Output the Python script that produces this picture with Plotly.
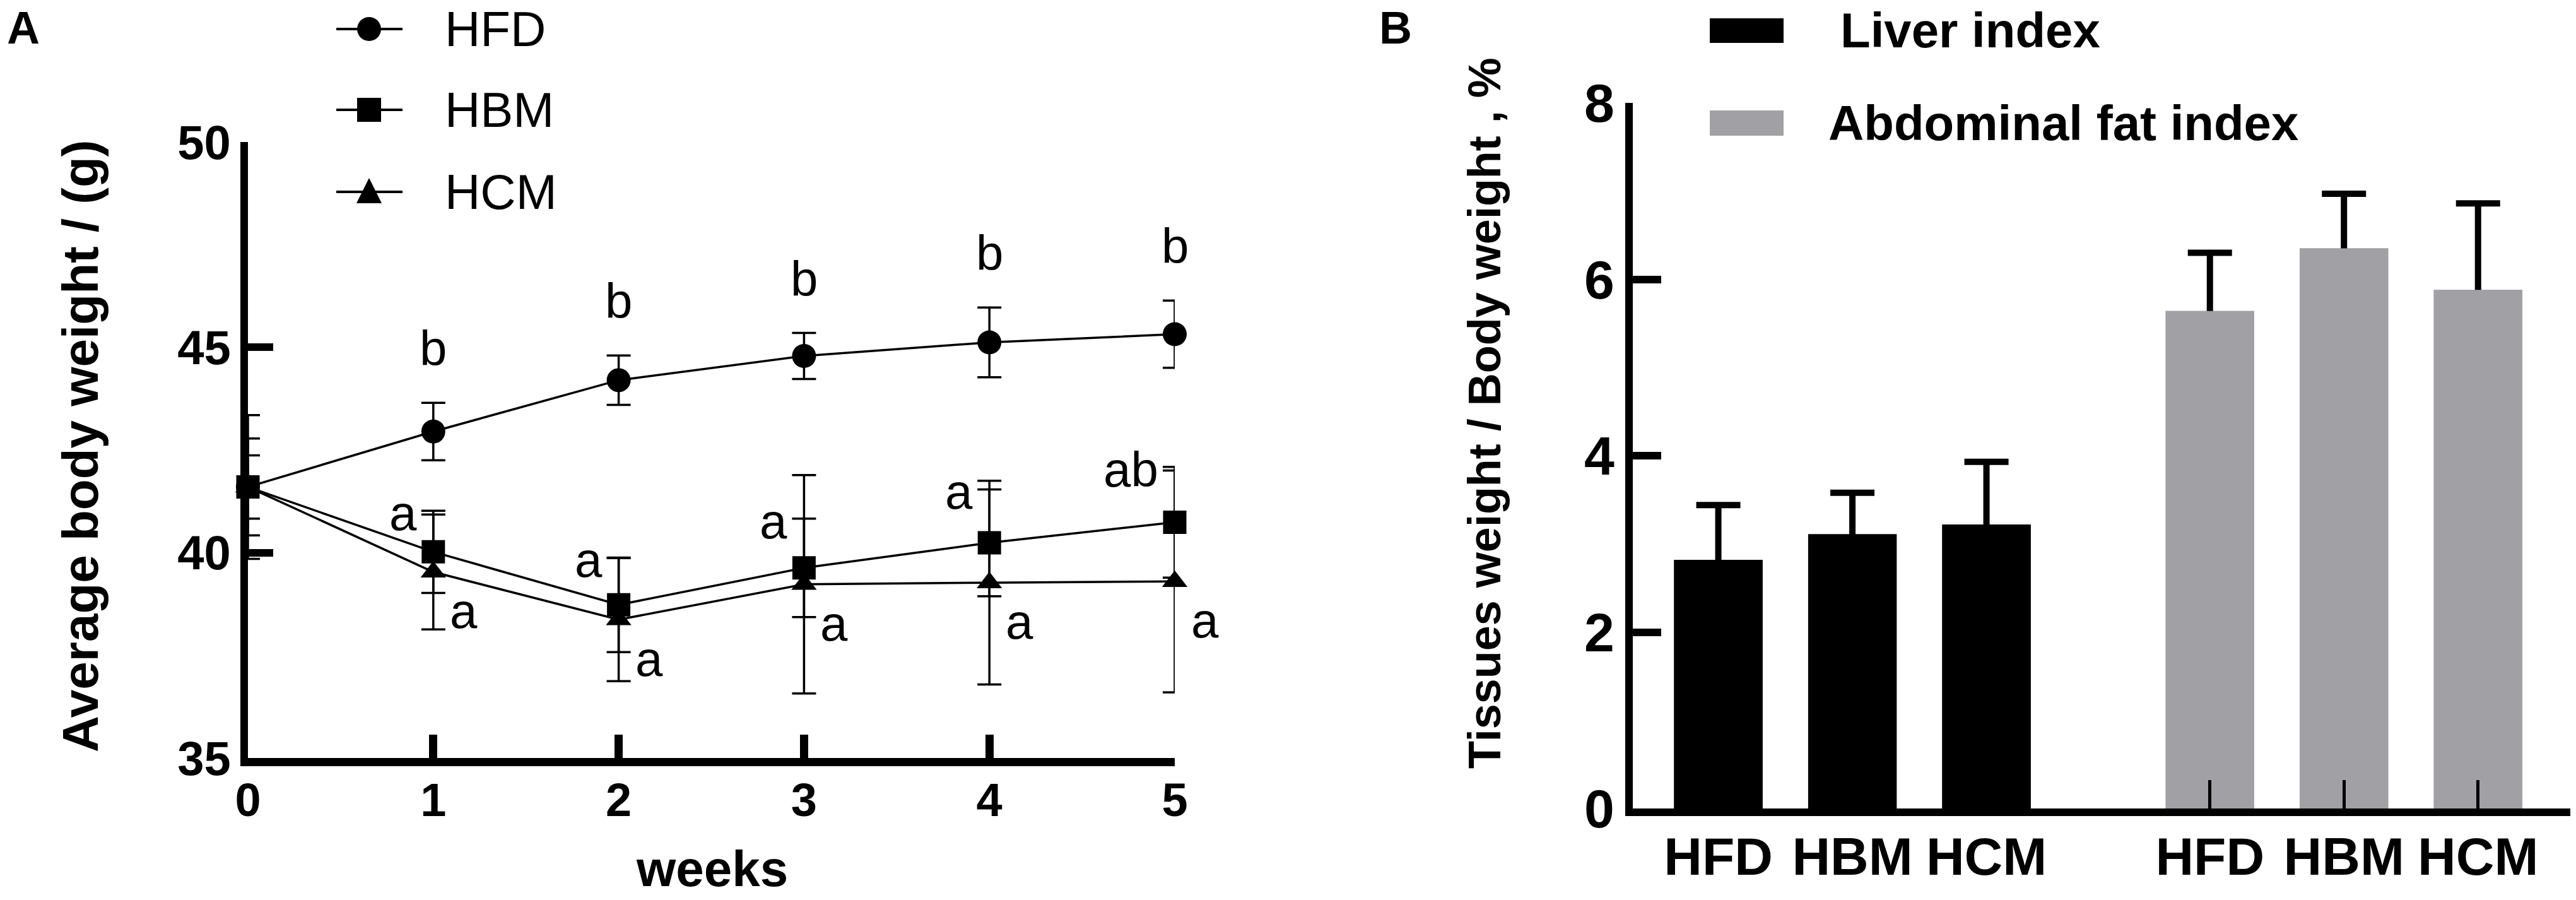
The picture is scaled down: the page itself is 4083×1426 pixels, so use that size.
import plotly.graph_objects as go

# Painel A: peso corporal médio (g) por semana
weeks = [0, 1, 2, 3, 4, 5]
hfd_mean = [41.6, 42.95, 44.2, 44.79, 45.12, 45.32]
hfd_sd = [1.18, 0.7, 0.6, 0.56, 0.85, 0.82]
hbm_mean = [41.6, 40.02, 38.73, 39.63, 40.24, 40.74]
hbm_sd = [0.77, 1.0, 1.15, 1.2, 1.3, 1.35]
hcm_mean = [41.6, 39.53, 38.37, 39.23, 39.27, 39.3]
hcm_sd = [1.75, 1.4, 1.5, 2.66, 2.48, 2.7]
hfd_letters = ["", "b", "b", "b", "b", "b"]
hbm_letters = ["", "a", "a", "a", "a", "ab"]
hcm_letters = ["", "a", "a", "a", "a", "a"]

# Painel B: índices (%)
groups = ["HFD", "HBM", "HCM"]
liver_mean = [2.82, 3.11, 3.22]
liver_sd = [0.62, 0.47, 0.71]
fat_mean = [5.64, 6.35, 5.88]
fat_sd = [0.66, 0.62, 0.98]

W, H = 4083, 1426
FONT = "Liberation Sans, Arial, Helvetica, sans-serif"
GREY = "#a1a1a5"

def px(x):
    return x / W

def py(y):
    return 1 - y / H

fig = go.Figure()

# linhas com barras de erro
series = [
    ("HFD", hfd_mean, hfd_sd, "circle", 38),
    ("HBM", hbm_mean, hbm_sd, "square", 37),
    ("HCM", hcm_mean, hcm_sd, "triangle-up", 35),
]
for name, m, s, sym, size in series:
    fig.add_trace(go.Scatter(
        x=weeks, y=m, name=name, mode="lines+markers",
        line=dict(color="black", width=3.5),
        marker=dict(symbol=sym, size=size, color="black"),
        error_y=dict(type="data", array=s, color="black", thickness=3.5, width=19),
        cliponaxis=False, showlegend=False, xaxis="x", yaxis="y",
    ))

# barras do painel B: primeiro com a barra de erro (só para cima),
# depois a mesma barra por cima para esconder o traço inferior
step = 3 + 2 / 3
pos_liver = [i for i in range(3)]
pos_fat = [i + step for i in range(3)]
bar_sets = [(pos_liver, liver_mean, liver_sd, "black", "Liver index"),
            (pos_fat, fat_mean, fat_sd, GREY, "Abdominal fat index")]
for pos, m, s, col, name in bar_sets:
    fig.add_trace(go.Bar(
        x=pos, y=m, name=name, width=0.66, marker=dict(color=col, line=dict(width=0)),
        error_y=dict(type="data", array=s, arrayminus=[0.1] * len(s), symmetric=False,
                     color="black", thickness=10, width=35),
        showlegend=False, xaxis="x2", yaxis="y2",
    ))
for pos, m, s, col, name in bar_sets:
    fig.add_trace(go.Bar(
        x=pos, y=m, name=name, width=0.66, marker=dict(color=col, line=dict(width=0)),
        showlegend=False, hoverinfo="skip", xaxis="x2", yaxis="y2",
    ))

ann = []
# letras de significância
for w, m, s, t in zip(weeks, hfd_mean, hfd_sd, hfd_letters):
    if t:
        ann.append(dict(x=w, y=m + s, text=t, xref="x", yref="y", showarrow=False,
                        xanchor="center", yanchor="middle", yshift=86, font=dict(size=78)))
for w, m, s, t in zip(weeks, hbm_mean, hbm_sd, hbm_letters):
    if t:
        ann.append(dict(x=w, y=m + s, text=t, xref="x", yref="y", showarrow=False,
                        xanchor="right", yanchor="middle", xshift=-24, yshift=-4,
                        font=dict(size=78)))
for w, m, t in zip(weeks, hcm_mean, hcm_letters):
    if t:
        ann.append(dict(x=w, y=m, text=t, xref="x", yref="y", showarrow=False,
                        xanchor="left", yanchor="middle", xshift=24, yshift=-62,
                        font=dict(size=78)))

# títulos e rótulos dos painéis
labels = [
    dict(x=px(37), y=py(44), text="A", font=dict(size=72, weight="bold")),
    dict(x=px(2212), y=py(44), text="B", font=dict(size=72, weight="bold")),
    dict(x=px(128), y=py(707), text="Average body weight / (g)", textangle=-90,
         font=dict(size=80, weight="bold")),
    dict(x=px(1128), y=py(1376), text="weeks", font=dict(size=80, weight="bold")),
    dict(x=px(2353), y=py(655), text="Tissues weight / Body weight , %", textangle=-90,
         font=dict(size=72, weight="bold")),
]
for a in labels:
    a.update(xref="paper", yref="paper", showarrow=False, xanchor="center", yanchor="middle")
ann += labels

# legenda do painel A (desenhada à mão)
shapes = []
leg_a_y = [46, 174, 304]
for (name, _, _, sym, _), ly in zip(series, leg_a_y):
    yy = py(ly)
    shapes.append(dict(type="line", xref="paper", yref="paper", x0=px(533), x1=px(638),
                       y0=yy, y1=yy, line=dict(color="black", width=4)))
    base = dict(xref="paper", yref="paper", xsizemode="pixel", ysizemode="pixel",
                xanchor=px(585), yanchor=yy, fillcolor="black", line=dict(width=0))
    if sym == "circle":
        shapes.append(dict(base, type="circle", x0=-19, x1=19, y0=-19, y1=19))
    elif sym == "square":
        shapes.append(dict(base, type="rect", x0=-19, x1=19, y0=-19, y1=19))
    else:
        shapes.append(dict(base, type="path", path="M-20,-18 L20,-18 L0,22 Z"))
    ann.append(dict(x=px(703), y=yy, text=name, xref="paper", yref="paper", showarrow=False,
                    xanchor="left", yanchor="middle", font=dict(size=78)))

# legenda do painel B
for col, name, y0, y1, tx in [("black", "Liver index", 29, 68, 2915),
                              (GREY, "Abdominal fat index", 175, 215, 2896)]:
    shapes.append(dict(type="rect", xref="paper", yref="paper", x0=px(2710), x1=px(2827),
                       y0=py(y1), y1=py(y0), fillcolor=col, line=dict(width=0)))
    ann.append(dict(x=px(tx), y=py((y0 + y1) / 2), text=name, xref="paper", yref="paper",
                    showarrow=False, xanchor="left", yanchor="middle",
                    font=dict(size=78, weight="bold")))

axis_common = dict(showline=True, linecolor="black", showgrid=False, zeroline=False,
                   ticks="inside", tickcolor="black", automargin=False)

fig.update_layout(
    width=W, height=H,
    margin=dict(l=0, r=0, t=0, b=0, pad=0),
    paper_bgcolor="white", plot_bgcolor="white",
    font=dict(family=FONT, color="black"),
    showlegend=False, barmode="overlay",
    xaxis=dict(axis_common, domain=[px(393), px(1862)], range=[0, 5],
               tickvals=weeks, ticktext=[str(w) for w in weeks],
               linewidth=13, ticklen=37, tickwidth=13, ticklabelstandoff=-10,
               tickfont=dict(size=74, weight="bold"), anchor="y"),
    yaxis=dict(axis_common, domain=[1 - 1201 / H, 1 - 225 / H], range=[35, 50],
               tickvals=[35, 40, 45, 50], linewidth=12, ticklen=40, tickwidth=12,
               tickfont=dict(size=76, weight="bold"), anchor="x"),
    xaxis2=dict(axis_common, domain=[px(2588), px(4074)], range=[-0.638, 6.355],
                tickvals=pos_liver + pos_fat, ticktext=groups + groups,
                linewidth=12, ticklen=45, tickwidth=5, ticklabelstandoff=-8,
                tickfont=dict(size=84, weight="bold"), anchor="y2"),
    yaxis2=dict(axis_common, domain=[1 - 1281 / H, 1 - 163 / H], range=[0, 8],
                tickvals=[0, 2, 4, 6, 8], linewidth=12, ticklen=45, tickwidth=12,
                tickfont=dict(size=86, weight="bold"), anchor="x2"),
    annotations=ann,
    shapes=shapes,
)

fig.write_html("out.html", config={"displayModeBar": False},
               post_script="document.body.style.margin='0';")
